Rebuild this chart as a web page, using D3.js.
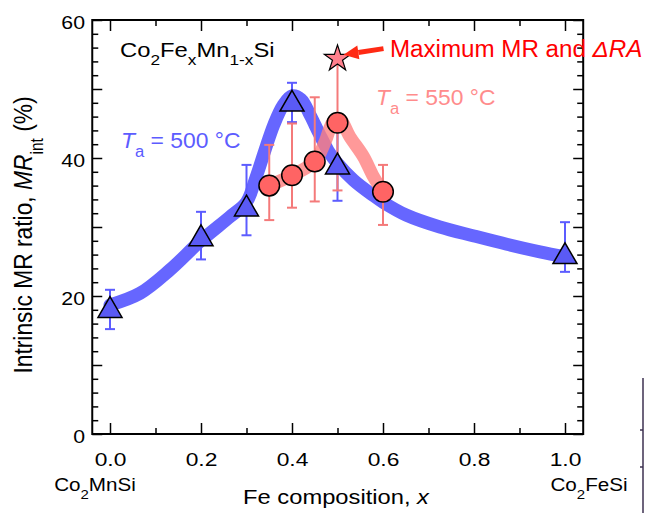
<!DOCTYPE html>
<html>
<head>
<meta charset="utf-8">
<script src="https://cdn.jsdelivr.net/npm/d3@7"></script>
<style>
  body { margin: 0; background: #fff; }
  svg { font-family: "Liberation Sans", Arial, sans-serif; }
</style>
</head>
<body>
<svg id="chart" width="645" height="513"></svg>
<script>
// Data
const xMajorTicks = [0, 0.2, 0.4, 0.6, 0.8, 1.0];
const xMinorTicks = [0.1, 0.3, 0.5, 0.7, 0.9];
const yLabelTicks = [0, 20, 40, 60];
const yMajorTicks = [0, 10, 20, 30, 40, 50, 60];
const yMinorTicks = d3.range(0, 61, 2).filter(v => v % 10 !== 0);

// Ta = 500 C (triangles)
const blueX = [0, 0.2, 0.3, 0.4, 0.5, 1.0];
const blueY = [17.9, 28.3, 32.6, 47.8, 38.7, 25.7];
const blueLo = [15.2, 25.3, 28.8, 45.2, 33.8, 23.5];
const blueHi = [20.9, 32.2, 39.0, 50.9, 44.0, 30.7];

// Ta = 550 C (circles)
const redX = [0.35, 0.4, 0.45, 0.5, 0.6];
const redY = [36.0, 37.5, 39.5, 45.1, 35.1];
const redLo = [31.0, 32.8, 33.7, 35.3, 30.3];
const redHi = [41.9, 45.0, 48.8, 54.4, 39.0];

// guide-to-the-eye curves
const blueCurveX = [0, 0.066, 0.132, 0.198, 0.264, 0.3, 0.32, 0.34, 0.36, 0.38, 0.4, 0.42, 0.44, 0.46, 0.48, 0.5, 0.535, 0.578, 0.6, 0.652, 0.725, 0.8, 0.872, 0.945, 1.0];
const blueCurveY = [18.7, 20.4, 23.8, 27.9, 31.5, 33.6, 37.0, 41.0, 44.8, 47.6, 49.0, 48.5, 46.2, 43.5, 41.0, 39.2, 36.8, 34.6, 33.6, 31.7, 30.0, 28.7, 27.5, 26.4, 25.7];
const redCurveX = [0.35, 0.4, 0.45, 0.473, 0.49, 0.505, 0.527, 0.557, 0.579, 0.6];
const redCurveY = [36.0, 37.5, 39.5, 42.4, 45.2, 45.6, 43.1, 40.2, 37.3, 35.1];

// maximum point (star)
const starX = 0.5;
const starY = 54.4;

const svg = d3.select('#chart');

const x = d3.scaleLinear().domain([0, 1]).range([110, 565]);
const y = d3.scaleLinear().domain([0, 60]).range([434, 20]);

const frameL = x(-0.039), frameR = x(1.04), frameT = y(60), frameB = y(0);

const blue = '#6666ff';
const blueDark = '#5a5af5';
const redFill = '#ff6464';

// curves
const line = d3.line()
  .x(d => x(d[0]))
  .y(d => y(d[1]))
  .curve(d3.curveCatmullRom.alpha(0.5));

svg.append('path')
  .datum(blueCurveX.map((v, i) => [v, blueCurveY[i]]))
  .attr('d', line)
  .attr('fill', 'none')
  .attr('stroke', blue)
  .attr('stroke-width', 13)
  .attr('stroke-linecap', 'round');

svg.append('path')
  .datum(redCurveX.map((v, i) => [v, redCurveY[i]]))
  .attr('d', line)
  .attr('fill', 'none')
  .attr('stroke', '#ff8080')
  .attr('stroke-opacity', 0.8)
  .attr('stroke-width', 13)
  .attr('stroke-linecap', 'round');

// error bars
function errorBars(xs, lo, hi, color) {
  const g = svg.append('g').attr('stroke', color).attr('stroke-width', 2).attr('fill', 'none');
  xs.forEach((v, i) => {
    g.append('line').attr('x1', x(v)).attr('x2', x(v)).attr('y1', y(lo[i])).attr('y2', y(hi[i]));
    g.append('line').attr('x1', x(v) - 5).attr('x2', x(v) + 5).attr('y1', y(lo[i])).attr('y2', y(lo[i]));
    g.append('line').attr('x1', x(v) - 5).attr('x2', x(v) + 5).attr('y1', y(hi[i])).attr('y2', y(hi[i]));
  });
}
errorBars(blueX, blueLo, blueHi, '#5c5cff');
errorBars(redX, redLo, redHi, '#f47a7a');

// markers
svg.append('g').selectAll('path')
  .data(blueX)
  .join('path')
  .attr('transform', (d, i) => `translate(${x(d)},${y(blueY[i])})`)
  .attr('d', d3.symbol().type(d3.symbolTriangle).size(250))
  .attr('fill', blueDark)
  .attr('stroke', '#000')
  .attr('stroke-width', 1.5);

svg.append('g').selectAll('circle')
  .data(redX)
  .join('circle')
  .attr('cx', d => x(d))
  .attr('cy', (d, i) => y(redY[i]))
  .attr('r', 10.3)
  .attr('fill', redFill)
  .attr('stroke', '#000')
  .attr('stroke-width', 1.5);

svg.append('path')
  .attr('transform', `translate(${x(starX)},${y(starY)})`)
  .attr('d', d3.symbol().type(d3.symbolStar).size(214))
  .attr('fill', '#ff7f8c')
  .attr('stroke', '#000')
  .attr('stroke-width', 1.2);

// arrow pointing at the star
const tipX = x(starX) + 6, tipY = y(starY) - 4;
const tailX = tipX + 40, tailY = tipY - 6;
const ang = Math.atan2(tipY - tailY, tipX - tailX);
const headLen = 15, headW = 7;
const bx = tipX - headLen * Math.cos(ang), by = tipY - headLen * Math.sin(ang);
svg.append('line')
  .attr('x1', tailX).attr('y1', tailY).attr('x2', bx).attr('y2', by)
  .attr('stroke', '#ff2a14').attr('stroke-width', 5);
svg.append('polygon')
  .attr('points', [
    [tipX, tipY],
    [bx + headW * Math.sin(ang), by - headW * Math.cos(ang)],
    [bx - headW * Math.sin(ang), by + headW * Math.cos(ang)]
  ].map(p => p.join(',')).join(' '))
  .attr('fill', '#ff2a14');

// frame
svg.append('rect')
  .attr('x', frameL).attr('y', frameT)
  .attr('width', frameR - frameL).attr('height', frameB - frameT)
  .attr('fill', 'none').attr('stroke', '#000').attr('stroke-width', 2);

// ticks (inward on all four sides)
function ticks(axisFn, scale, values, size, pos, labels, pad) {
  const ax = axisFn(scale).tickValues(values).tickSize(-size).tickPadding(pad || 0)
    .tickFormat(labels ? labels : '');
  const g = svg.append('g').attr('transform', pos).call(ax);
  g.select('.domain').remove();
  g.selectAll('.tick line').attr('stroke', '#000').attr('stroke-width', 1.5);
  g.selectAll('text').attr('fill', '#000').style('font-size', '19px');
  return g;
}
ticks(d3.axisBottom, x, xMajorTicks, 11, `translate(0,${frameB})`, d3.format('.1f'), 18.5)
  .selectAll('text').attr('transform', 'scale(1.2,1)');
ticks(d3.axisBottom, x, xMinorTicks, 6, `translate(0,${frameB})`);
ticks(d3.axisTop, x, xMajorTicks, 11, `translate(0,${frameT})`);
ticks(d3.axisTop, x, xMinorTicks, 6, `translate(0,${frameT})`);
ticks(d3.axisLeft, y, yMajorTicks, 10, `translate(${frameL},0)`);
ticks(d3.axisLeft, y, yMinorTicks, 6, `translate(${frameL},0)`);
ticks(d3.axisLeft, y, yLabelTicks, 0, `translate(${frameL},0)`, d3.format('d'), 6.5)
  .selectAll('text').attr('dy', '0.44em').attr('transform', 'scale(1.12,1)');
ticks(d3.axisRight, y, yMajorTicks, 10, `translate(${frameR},0)`);
ticks(d3.axisRight, y, yMinorTicks, 6, `translate(${frameR},0)`);

// text helpers
function label(px, py, size, sx, color, anchor) {
  return svg.append('text')
    .attr('transform', `translate(${px},${py}) scale(${sx},1)`)
    .attr('text-anchor', anchor || 'start')
    .attr('fill', color || '#000')
    .style('font-size', size + 'px');
}
function sub(t, s, size) {
  t.append('tspan').attr('baseline-shift', 'sub').style('font-size', size + 'px').text(s);
}

const formula = label(120, 57, 20, 1.19);
formula.append('tspan').text('Co');
sub(formula, '2', 14.5);
formula.append('tspan').text('Fe');
sub(formula, 'x', 14.5);
formula.append('tspan').text('Mn');
sub(formula, '1-x', 14.5);
formula.append('tspan').text('Si');

const ta500 = label(121, 148, 22, 1.04, '#5c5cff');
ta500.append('tspan').style('font-style', 'italic').text('T');
sub(ta500, 'a', 16);
ta500.append('tspan').text(' = 500 °C');

const ta550 = label(376, 105, 22, 1.04, '#ff8c8c');
ta550.append('tspan').style('font-style', 'italic').text('T');
sub(ta550, 'a', 16);
ta550.append('tspan').text(' = 550 °C');

const maxLabel = label(390, 57, 23, 1.05, '#ff0000');
maxLabel.append('tspan').text('Maximum MR and ');
maxLabel.append('tspan').style('font-style', 'italic').text('ΔRA');

// x-axis end labels
const cms = label(95, 491, 18.6, 1.11, '#000', 'middle');
cms.append('tspan').text('Co');
sub(cms, '2', 13.5);
cms.append('tspan').text('MnSi');

const cfs = label(589, 491, 18.6, 1.11, '#000', 'middle');
cfs.append('tspan').text('Co');
sub(cfs, '2', 13.5);
cfs.append('tspan').text('FeSi');

const xl = label(336, 504, 21, 1.13, '#000', 'middle');
xl.append('tspan').text('Fe composition, ');
xl.append('tspan').style('font-style', 'italic').text('x');

const yl = svg.append('text')
  .attr('transform', 'translate(32,235) scale(1.13,1) rotate(-90)')
  .attr('text-anchor', 'middle').style('font-size', '22.8px');
yl.append('tspan').text('Intrinsic MR ratio, ');
yl.append('tspan').style('font-style', 'italic').text('MR');
sub(yl, 'int', 15.5);
yl.append('tspan').text(' (%)');

// stray edge line at the right of the picture
const edge = svg.append('g').attr('stroke', '#3d3050').attr('stroke-width', 1.5);
edge.append('line').attr('x1', 643).attr('x2', 643).attr('y1', 378).attr('y2', 513);
edge.append('line').attr('x1', 640).attr('x2', 643).attr('y1', 430).attr('y2', 430);
edge.append('line').attr('x1', 640).attr('x2', 643).attr('y1', 467).attr('y2', 467);
</script>
</body>
</html>
